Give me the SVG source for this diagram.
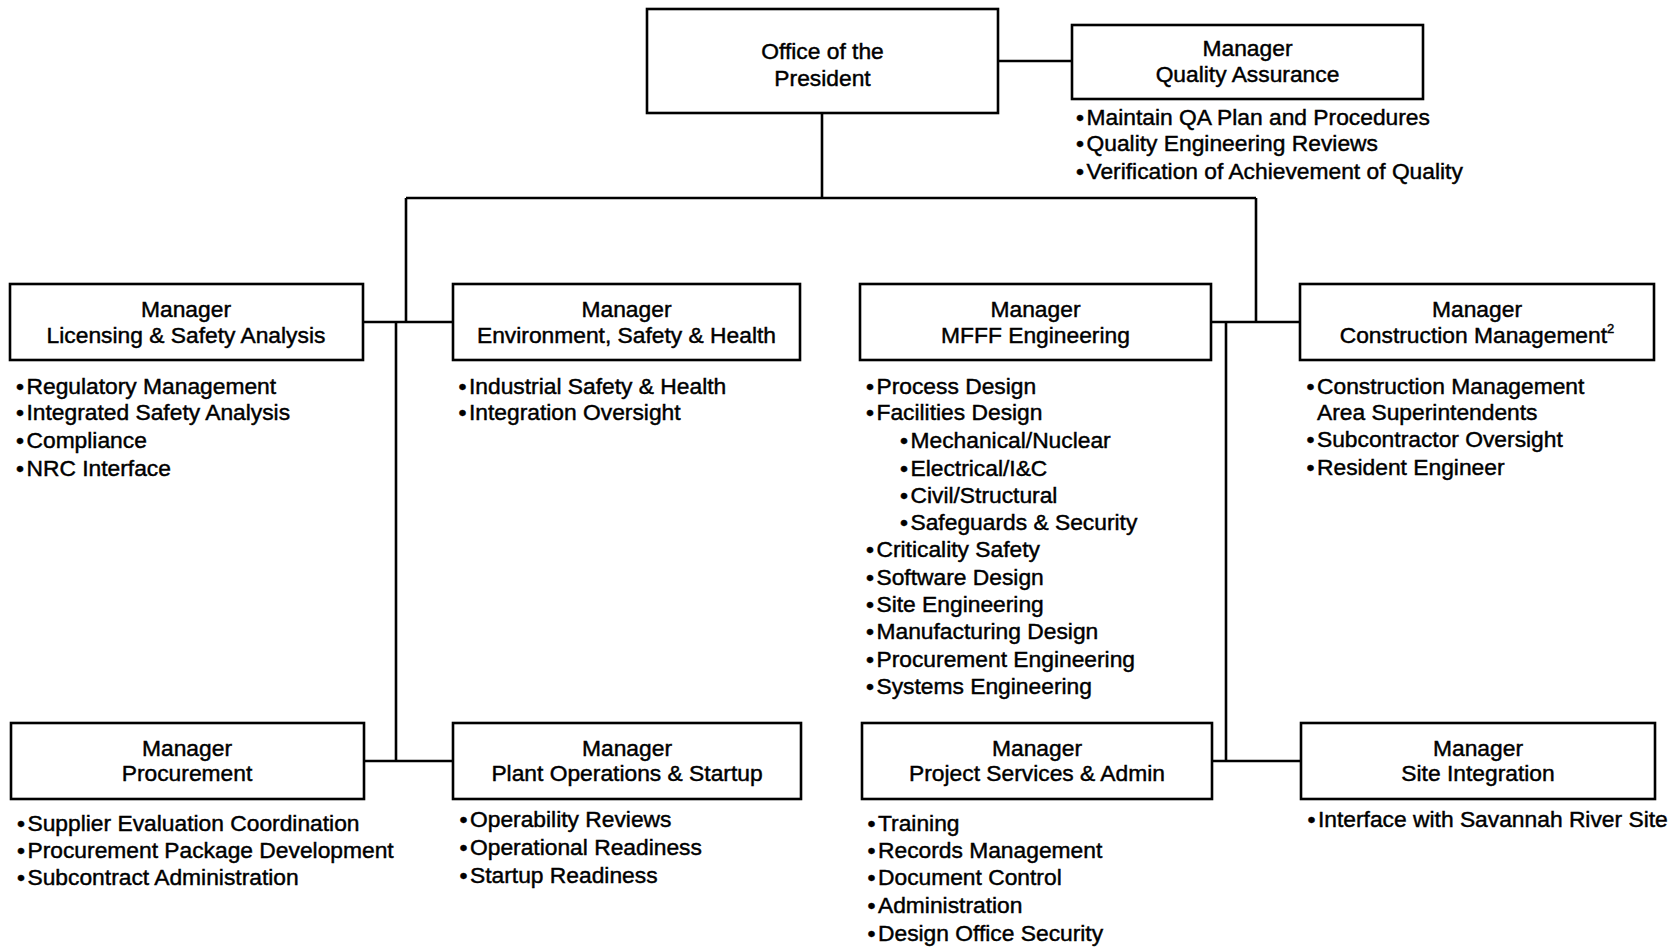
<svg xmlns="http://www.w3.org/2000/svg" width="1675" height="949" viewBox="0 0 1675 949">
<style>
.box{fill:#fff;stroke:#000;stroke-width:2.6}
.ln{fill:none;stroke:#000;stroke-width:2.6}
text{font-family:"Liberation Sans",Arial,sans-serif;font-size:22.8px;fill:#000;stroke:#000;stroke-width:0.45}
.t{text-anchor:middle}
</style>
<rect width="1675" height="949" fill="#fff"/>
<g id="connectors">
<path class="ln" d="M998 61H1072"/>
<path class="ln" d="M822 113V198M406 198H1256"/>
<path class="ln" d="M406 198V322M363 322H453M396 322V761M364 761H453"/>
<path class="ln" d="M1256 198V322M1211 322H1300M1226 322V761M1212 761H1301"/>
</g>
<g id="president">
<rect class="box" x="647" y="9" width="351" height="104"/>
<text class="t" x="822.5" y="59">Office of the</text>
<text class="t" x="822.5" y="86">President</text>
</g>
<g id="qa">
<rect class="box" x="1072" y="25" width="351" height="74"/>
<text class="t" x="1247.5" y="56">Manager</text>
<text class="t" x="1247.5" y="82">Quality Assurance</text>
<text x="1076" y="124.5">•<tspan dx="2.5">Maintain QA Plan and Procedures</tspan></text>
<text x="1076" y="151">•<tspan dx="2.5">Quality Engineering Reviews</tspan></text>
<text x="1076" y="179">•<tspan dx="2.5">Verification of Achievement of Quality</tspan></text>
</g>
<g id="licensing">
<rect class="box" x="10" y="284" width="353" height="76"/>
<text class="t" x="186" y="317">Manager</text>
<text class="t" x="186" y="343">Licensing &amp; Safety Analysis</text>
<text x="16" y="394">•<tspan dx="2.5">Regulatory Management</tspan></text>
<text x="16" y="420">•<tspan dx="2.5">Integrated Safety Analysis</tspan></text>
<text x="16" y="448">•<tspan dx="2.5">Compliance</tspan></text>
<text x="16" y="476">•<tspan dx="2.5">NRC Interface</tspan></text>
</g>
<g id="esh">
<rect class="box" x="453" y="284" width="347" height="76"/>
<text class="t" x="626.5" y="317">Manager</text>
<text class="t" x="626.5" y="343">Environment, Safety &amp; Health</text>
<text x="458.5" y="394">•<tspan dx="2.5">Industrial Safety &amp; Health</tspan></text>
<text x="458.5" y="420">•<tspan dx="2.5">Integration Oversight</tspan></text>
</g>
<g id="mfff">
<rect class="box" x="860" y="284" width="351" height="76"/>
<text class="t" x="1035.5" y="317">Manager</text>
<text class="t" x="1035.5" y="343">MFFF Engineering</text>
<text x="866" y="394">•<tspan dx="2.5">Process Design</tspan></text>
<text x="866" y="420">•<tspan dx="2.5">Facilities Design</tspan></text>
<text x="900" y="448">•<tspan dx="2.5">Mechanical/Nuclear</tspan></text>
<text x="900" y="476">•<tspan dx="2.5">Electrical/I&amp;C</tspan></text>
<text x="900" y="503">•<tspan dx="2.5">Civil/Structural</tspan></text>
<text x="900" y="530">•<tspan dx="2.5">Safeguards &amp; Security</tspan></text>
<text x="866" y="557">•<tspan dx="2.5">Criticality Safety</tspan></text>
<text x="866" y="585">•<tspan dx="2.5">Software Design</tspan></text>
<text x="866" y="611.5">•<tspan dx="2.5">Site Engineering</tspan></text>
<text x="866" y="639">•<tspan dx="2.5">Manufacturing Design</tspan></text>
<text x="866" y="667">•<tspan dx="2.5">Procurement Engineering</tspan></text>
<text x="866" y="694">•<tspan dx="2.5">Systems Engineering</tspan></text>
</g>
<g id="construction">
<rect class="box" x="1300" y="284" width="354" height="76"/>
<text class="t" x="1477" y="317">Manager</text>
<text class="t" x="1477" y="343">Construction Management<tspan font-size="13" dy="-10">2</tspan></text>
<text x="1306.5" y="394">•<tspan dx="2.5">Construction Management</tspan></text>
<text x="1317" y="419.5">Area Superintendents</text>
<text x="1306.5" y="447">•<tspan dx="2.5">Subcontractor Oversight</tspan></text>
<text x="1306.5" y="475">•<tspan dx="2.5">Resident Engineer</tspan></text>
</g>
<g id="procurement">
<rect class="box" x="11" y="723" width="353" height="76"/>
<text class="t" x="187" y="756">Manager</text>
<text class="t" x="187" y="781">Procurement</text>
<text x="17" y="830.5">•<tspan dx="2.5">Supplier Evaluation Coordination</tspan></text>
<text x="17" y="858">•<tspan dx="2.5">Procurement Package Development</tspan></text>
<text x="17" y="885">•<tspan dx="2.5">Subcontract Administration</tspan></text>
</g>
<g id="plantops">
<rect class="box" x="453" y="723" width="348" height="76"/>
<text class="t" x="627" y="756">Manager</text>
<text class="t" x="627" y="781">Plant Operations &amp; Startup</text>
<text x="459.5" y="827">•<tspan dx="2.5">Operability Reviews</tspan></text>
<text x="459.5" y="855">•<tspan dx="2.5">Operational Readiness</tspan></text>
<text x="459.5" y="883">•<tspan dx="2.5">Startup Readiness</tspan></text>
</g>
<g id="projectservices">
<rect class="box" x="862" y="723" width="350" height="76"/>
<text class="t" x="1037" y="756">Manager</text>
<text class="t" x="1037" y="781">Project Services &amp; Admin</text>
<text x="867.5" y="830.5">•<tspan dx="2.5">Training</tspan></text>
<text x="867.5" y="858">•<tspan dx="2.5">Records Management</tspan></text>
<text x="867.5" y="885">•<tspan dx="2.5">Document Control</tspan></text>
<text x="867.5" y="913">•<tspan dx="2.5">Administration</tspan></text>
<text x="867.5" y="940.5">•<tspan dx="2.5">Design Office Security</tspan></text>
</g>
<g id="siteintegration">
<rect class="box" x="1301" y="723" width="354" height="76"/>
<text class="t" x="1478" y="756">Manager</text>
<text class="t" x="1478" y="781">Site Integration</text>
<text x="1307.5" y="827">•<tspan dx="2.5">Interface with Savannah River Site</tspan></text>
</g>
</svg>
